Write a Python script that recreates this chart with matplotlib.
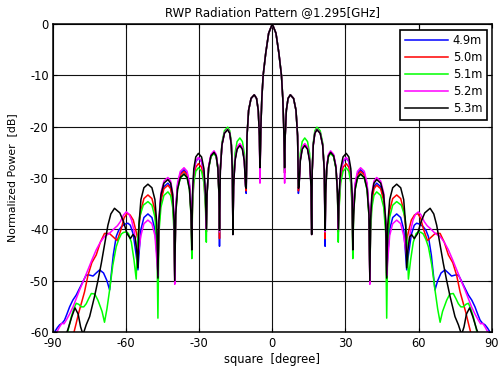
import numpy as np
import matplotlib
matplotlib.use("Agg")
import matplotlib.pyplot as plt

# right half of the pattern (0..90 deg), mirrored for the left half
ang_in = [0, 1.5, 2.7, 3.75, 4.3, 4.65, 4.85, 5.05,
          5.29, 5.76, 6.46, 7.4, 8.72, 9.71, 10.37, 10.7,
          10.96, 11.48, 12.26, 13.3, 14.44, 15.3, 15.87, 16.15,
          16.37, 16.8, 17.44, 18.3, 19.64, 20.65, 21.32, 21.65,
          21.88, 22.33, 23.0, 23.9, 25.16, 26.11, 26.74, 27.05,
          27.38, 28.03, 29.0, 30.3, 31.38, 32.19, 32.73, 33.0,
          33.32, 33.96, 34.92, 36.2, 37.72, 38.86, 39.62, 40.0,
          40.28, 40.84, 41.68, 42.8, 44.44, 45.67, 46.49, 46.9,
          47.31, 48.13, 49.36, 51.0]

blue_in = [0, -1.8, -5.7, -10, -14.5, -19.5, -24, -29,
           -21.8, -16.8, -14.5, -13.8, -14.5, -16.8, -21.8, -33,
           -31.5, -26.5, -24.2, -23.5, -24.2, -26.5, -31.5, -41,
           -28.5, -23.5, -21.2, -20.5, -21.2, -23.5, -28.5, -43.3,
           -33, -28, -25.7, -25, -25.7, -28, -33, -40.5,
           -34.1, -29.1, -26.8, -26.1, -26.8, -29.1, -34.1, -42.5,
           -36.4, -31.4, -29.1, -28.4, -29.1, -31.4, -36.4, -50,
           -39, -34, -31.7, -31, -31.7, -34, -39, -48.5,
           -45, -40, -37.7, -37]
red_in = [0, -1.8, -5.7, -10, -14.5, -19.5, -24, -29,
          -21.8, -16.8, -14.5, -13.8, -14.5, -16.8, -21.8, -32.5,
          -31.4, -26.4, -24.1, -23.4, -24.1, -26.4, -31.4, -41,
          -28.5, -23.5, -21.2, -20.5, -21.2, -23.5, -28.5, -41.8,
          -33, -28, -25.7, -25, -25.7, -28, -33, -40.5,
          -35.2, -30.2, -27.9, -27.2, -27.9, -30.2, -35.2, -43,
          -36.7, -31.7, -29.4, -28.7, -29.4, -31.7, -36.7, -50,
          -39.4, -34.4, -32.1, -31.4, -32.1, -34.4, -39.4, -49,
          -41.3, -36.3, -34, -33.3]
green_in = [0, -1.8, -5.7, -10, -14.5, -19.5, -24, -28.5,
            -21.8, -16.8, -14.5, -13.8, -14.5, -16.8, -21.8, -31.5,
            -30.2, -25.2, -22.9, -22.2, -22.9, -25.2, -30.2, -41,
            -28.1, -23.1, -20.8, -20.1, -20.8, -23.1, -28.1, -40.5,
            -33.2, -28.2, -25.9, -25.2, -25.9, -28.2, -33.2, -42.5,
            -36, -31, -28.7, -28, -28.7, -31, -36, -45.7,
            -37.3, -32.3, -30, -29.3, -30, -32.3, -37.3, -49,
            -40.7, -35.7, -33.4, -32.7, -33.4, -35.7, -40.7, -57.3,
            -42.6, -37.6, -35.3, -34.6]
magenta_in = [0, -1.8, -5.7, -10, -14.5, -19.5, -24, -31,
              -21.8, -16.8, -14.5, -13.8, -14.5, -16.8, -21.8, -31.5,
              -31.3, -26.3, -24, -23.3, -24, -26.3, -31.3, -41,
              -28.5, -23.5, -21.2, -20.5, -21.2, -23.5, -28.5, -40.5,
              -32.7, -27.7, -25.4, -24.7, -25.4, -27.7, -32.7, -40,
              -34, -29, -26.7, -26, -26.7, -29, -34, -42,
              -36, -31, -28.7, -28, -28.7, -31, -36, -50.7,
              -37.9, -32.9, -30.6, -29.9, -30.6, -32.9, -37.9, -49,
              -46.2, -41.2, -38.9, -38.2]
black_in = [0, -1.8, -5.7, -10, -14.5, -19.5, -24, -28,
            -21.8, -16.8, -14.5, -13.8, -14.5, -16.8, -21.8, -32,
            -31.7, -26.7, -24.4, -23.7, -24.4, -26.7, -31.7, -41,
            -28.6, -23.6, -21.3, -20.6, -21.3, -23.6, -28.6, -40.2,
            -33, -28, -25.7, -25, -25.7, -28, -33, -40,
            -33.2, -28.2, -25.9, -25.2, -25.9, -28.2, -33.2, -44,
            -37.2, -32.2, -29.9, -29.2, -29.9, -32.2, -37.2, -50,
            -38.3, -33.3, -31, -30.3, -31, -33.3, -38.3, -49.5,
            -39.2, -34.2, -31.9, -31.2]

# outer part (beyond 51 deg) differs per antenna length
blue_out_ang = [52.64, 53.87, 54.69, 55.1, 55.8, 57.0, 58.2, 59.2, 60.5, 61.9,
                63.0, 64.0, 65.2, 66.7, 67.8, 69.2, 70.8, 72.2, 73.5, 75.0,
                76.3, 77.3, 78.3, 80.4, 81.8, 83.1, 84.2, 85.2, 86.2, 87.2,
                88.2, 89.0, 89.6]
blue_out_db = [-37.7, -40, -45, -47.9, -45, -41, -39.2, -38.8, -39, -39.5,
               -40.2, -41.4, -45, -51.8, -50, -48.5, -47.9, -48.5, -49.1, -48.9,
               -48.9, -49.8, -50.8, -52.8, -53.8, -55.1, -56.5, -57.7, -58.3, -58.6,
               -59.2, -59.8, -61]
red_out_ang = [52.64, 53.87, 54.69, 55.1, 55.8, 57.0, 58.3, 59.6, 60.8, 62.0,
               63.6, 65.0, 66.8, 68.8, 70.5, 72.2, 74.0, 75.6, 77.0, 78.3,
               79.4, 80.4, 81.4, 83.0]
red_out_db = [-34, -36.3, -39.5, -42.1, -40.5, -38.2, -37.2, -36.9, -37.8, -40,
              -42.2, -41.6, -40.8, -40.8, -42.5, -45, -46.5, -49, -52.2, -54.4,
              -56.3, -58.3, -60.2, -63]
green_out_ang = [52.9, 54.4, 55.3, 55.8, 56.7, 57.8, 59.0, 59.9, 61.0, 61.9,
                 63.0, 64.0, 65.4, 66.7, 67.8, 68.8, 69.8, 71.5, 72.8, 74.2,
                 75.3, 76.3, 77.3, 78.3, 79.4, 80.4, 81.4, 82.4, 83.3, 83.8,
                 84.5]
green_out_db = [-35.3, -37.6, -42.6, -49.7, -46, -42.5, -40.8, -40.5, -40.6, -40.9,
                -42, -43.4, -47, -51.8, -55.5, -58.1, -56, -53.8, -52.6, -52.5,
                -53.5, -54.5, -55.1, -55.1, -54.6, -54.4, -55.5, -57, -58.8, -59.8,
                -61]
magenta_out_ang = [52.64, 53.87, 54.69, 55.1, 55.7, 56.6, 57.7, 58.8, 59.9, 61.0,
                   62.3, 63.5, 64.7, 66.8, 68.8, 70.5, 72.2, 74.0, 75.6, 77.3,
                   79.0, 80.4, 81.7, 83.1, 84.5, 85.4, 86.3, 87.2, 87.9, 88.6,
                   89.5]
magenta_out_db = [-38.9, -41.2, -44, -45, -43.5, -40.5, -38.2, -37, -36.6, -37.2,
                  -38.5, -39.3, -39.8, -40.8, -41.4, -42.5, -44, -46, -47.9, -49.9,
                  -51.8, -53.5, -55.1, -56.5, -57.7, -58.4, -58.3, -59, -59.6, -60.2,
                  -61]
black_out_ang = [52.64, 53.87, 54.69, 55.1, 55.6, 56.3, 57.1, 58.2, 59.6, 61.0,
                 62.5, 64.7, 66.2, 67.4, 68.8, 70.1, 71.5, 72.9, 74.9, 76.3,
                 77.6, 78.6, 79.6, 80.9, 82.2, 83.8, 85.0, 90.0]
black_out_db = [-31.9, -34.2, -39.2, -47.5, -44, -41.5, -41, -41.8, -40.8, -38.5,
                -36.8, -35.9, -37, -39.2, -43, -46.6, -50, -53.1, -57, -58.6,
                -60.5, -59, -56.5, -55.3, -57, -59.5, -61, -66]

labels = ["4.9m", "5.0m", "5.1m", "5.2m", "5.3m"]
colors = ["#0000ff", "#ff0000", "#00ff00", "#ff00ff", "#000000"]
x_ticks = [-90, -60, -30, 0, 30, 60, 90]
y_ticks = [-60, -50, -40, -30, -20, -10, 0]


def mirror(inner_ang, inner_db, out_ang, out_db):
    a = np.array(inner_ang + out_ang, dtype=float)
    d = np.array(inner_db + out_db, dtype=float)
    return np.concatenate([-a[::-1], a[1:]]), np.concatenate([d[::-1], d[1:]])


series = [
    (blue_in, blue_out_ang, blue_out_db),
    (red_in, red_out_ang, red_out_db),
    (green_in, green_out_ang, green_out_db),
    (magenta_in, magenta_out_ang, magenta_out_db),
    (black_in, black_out_ang, black_out_db),
]

plt.rcParams["font.family"] = "DejaVu Sans"
plt.rcParams["axes.unicode_minus"] = False

fig = plt.figure(figsize=(4.99, 3.71), dpi=100)
ax = fig.add_axes([0.1058, 0.1051, 0.8798, 0.8302])

for (db_in, oa, od), lab, col in zip(series, labels, colors):
    x, y = mirror(ang_in, db_in, oa, od)
    ax.plot(x, y, color=col, lw=1.1, label=lab)

ax.set_xlim(-90, 90)
ax.set_ylim(-60, 0)
ax.set_xticks(x_ticks)
ax.set_yticks(y_ticks)
ax.grid(True, color="#111111", lw=0.8, ls="-")
ax.tick_params(direction="in", length=3, labelsize=8.3, top=True, right=True)
ax.tick_params(axis="x", pad=3.5)
ax.tick_params(axis="y", pad=3)
for s in ax.spines.values():
    s.set_linewidth(1.1)

ax.set_title("RWP Radiation Pattern @1.295[GHz]", fontsize=8.5, pad=6)
ax.set_xlabel("square  [degree]", fontsize=8.3, labelpad=2.5)
ax.set_ylabel("Normalized Power  [dB]", fontsize=7.8, labelpad=9)

leg = ax.legend(loc="upper right", bbox_to_anchor=(0.989, 0.981), borderaxespad=0,
                fontsize=8.3, handlelength=3.7, handletextpad=0.45, labelspacing=0.34,
                borderpad=0.4, fancybox=False, framealpha=1, edgecolor="black")
leg.get_frame().set_linewidth(1.2)

fig.savefig("out.png", dpi=100)
